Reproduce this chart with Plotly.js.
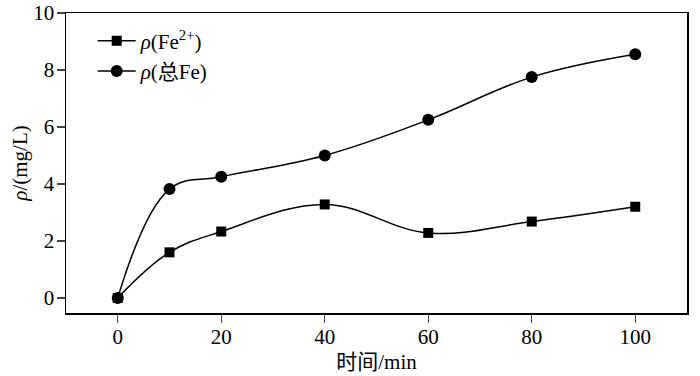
<!DOCTYPE html>
<html><head><meta charset="utf-8">
<script src="https://cdn.plot.ly/plotly-3.0.1.min.js"></script>
<style>html,body{margin:0;padding:0;background:#fff}</style>
</head><body><div id="chart" style="width:700px;height:376px"></div>
<script>
const time = [0, 10, 20, 40, 60, 80, 100];
const fe2 = [0, 1.6, 2.33, 3.28, 2.28, 2.68, 3.2];
const feTotal = [0, 3.82, 4.25, 5.0, 6.25, 7.75, 8.55];
const xTicks = [0, 20, 40, 60, 80, 100];
const yTicks = [0, 2, 4, 6, 8, 10];
const seriesNames = ['<i>ρ</i>(Fe<sup>2+</sup>)', '<i>ρ</i>(总Fe)'];
const font = "'Liberation Serif', 'Noto Sans CJK SC', serif";

const traces = [
  {x: time, y: fe2, name: seriesNames[0], mode: 'lines+markers',
   line: {shape: 'spline', smoothing: 1.1, color: '#000', width: 1.5},
   marker: {symbol: 'square', size: 10, color: '#000'}},
  {x: time, y: feTotal, name: seriesNames[1], mode: 'lines+markers',
   line: {shape: 'spline', smoothing: 1.1, color: '#000', width: 1.5},
   marker: {symbol: 'circle', size: 12, color: '#000'}}
];
const layout = {
  width: 700, height: 376,
  margin: {l: 66, r: 13, t: 13, b: 63},
  paper_bgcolor: '#fff', plot_bgcolor: '#fff',
  font: {family: font, size: 21, color: '#000'},
  showlegend: true,
  legend: {x: 0.043, y: 0.975, xanchor: 'left', yanchor: 'top', bgcolor: 'rgba(0,0,0,0)',
           font: {family: font, size: 21}, tracegroupgap: 0, itemwidth: 38},
  xaxis: {range: [-10, 110], tickvals: xTicks, ticks: 'outside', ticklen: 8, tickwidth: 1.3,
          ticklabelstandoff: -4,
          showline: true, linewidth: 1.5, linecolor: '#000', mirror: true, showgrid: false, zeroline: false,
          tickfont: {family: font, size: 21}, title: {text: '时间/min', font: {family: font, size: 21}, standoff: 6}},
  yaxis: {range: [-0.53, 10], tickvals: yTicks, ticks: 'outside', ticklen: 8, tickwidth: 1.3,
          ticklabelstandoff: -2,
          showline: true, linewidth: 1.5, linecolor: '#000', mirror: true, showgrid: false, zeroline: false,
          tickfont: {family: font, size: 21}, title: {text: '<i>ρ</i>/(mg/L)', font: {family: font, size: 21}, standoff: 0}}
};
Plotly.newPlot('chart', traces, layout, {displayModeBar: false, staticPlot: true});
</script></body></html>
